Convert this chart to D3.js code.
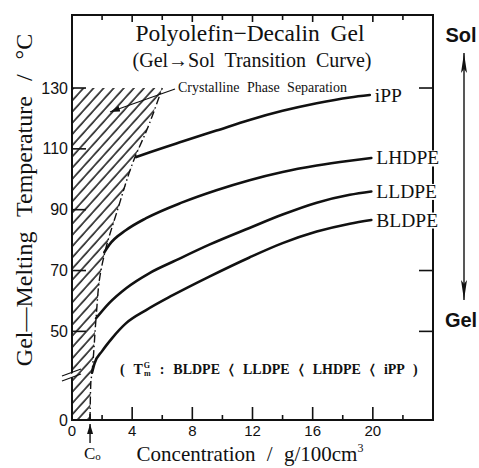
<!DOCTYPE html>
<html><head><meta charset="utf-8">
<script src="https://cdn.jsdelivr.net/npm/d3@7"></script>
<style>
body{margin:0;background:#fff}
svg text{fill:#111}
</style>
</head><body>
<svg id="chart" width="479" height="468"></svg>
<script>
// Gel-melting temperature of polyolefin/decalin gels vs. concentration
const xMajorTicks = [0, 4, 8, 12, 16, 20];
const xMinorTicks = [2, 6, 10, 14, 18, 22];
const yTickValues = [0, 50, 70, 90, 110, 130];
const rightTickValues = [50, 70, 130];
const c0 = 1.2;

const seriesNames = ["iPP", "LHDPE", "LLDPE", "BLDPE"];
const iPPConc   = [4.27, 5.13, 7.33, 9.6, 11.8, 14.0, 16.27, 18.47, 19.8];
const iPPTemp   = [107.3, 108.8, 112.4, 116.0, 119.5, 122.5, 125.0, 126.9, 127.7];
const lhdpeConc = [2.15, 2.47, 3.6, 4.93, 7.33, 9.6, 11.8, 14.0, 16.27, 18.47, 19.9];
const lhdpeTemp = [76.0, 78.4, 83.3, 87.2, 92.4, 96.4, 99.7, 102.4, 104.5, 106.1, 107.0];
const lldpeConc = [1.6, 2.47, 3.6, 5.13, 6.93, 9.13, 11.8, 14.0, 16.27, 18.47, 19.9];
const lldpeTemp = [54.3, 59.3, 64.2, 69.1, 73.4, 78.5, 84.0, 88.4, 92.3, 94.9, 96.0];
const bldpeConc = [1.33, 1.5, 2.0, 2.67, 3.6, 4.93, 6.67, 9.13, 11.8, 14.0, 16.27, 18.47, 19.9];
const bldpeTemp = [36.4, 39.5, 43.5, 47.8, 52.7, 57.0, 61.8, 68.0, 74.3, 79.0, 82.8, 85.4, 86.6];

// Boundary of the crystalline phase-separation region
const boundaryConc = [1.2, 1.25, 1.33, 1.6, 1.87, 2.2, 3.0, 4.15, 5.0, 6.0];
const boundaryTemp = [0, 30, 36.5, 54.4, 68.5, 76.3, 89.5, 106.8, 116.5, 130];

const svg = d3.select("#chart");
const plotLeft = 72, plotRight = 433, plotTop = 15, plotBottom = 420;

const x = d3.scaleLinear().domain([0, 24]).range([plotLeft, plotRight]);
// broken temperature axis: 0..35 compressed, 35..154 linear
const y = d3.scaleLinear().domain([0, 35, 154]).range([plotBottom, 377, plotTop]);

const serif = "'Liberation Serif','Times New Roman',serif";
const sans = "'Liberation Sans',Arial,sans-serif";

// hatch pattern
const defs = svg.append("defs");
const pat = defs.append("pattern").attr("id", "hatch")
  .attr("patternUnits", "userSpaceOnUse").attr("width", 7.5).attr("height", 7.5)
  .attr("patternTransform", "rotate(42)");
pat.append("line").attr("x1", 1).attr("y1", 0).attr("x2", 1).attr("y2", 7.5)
  .attr("stroke", "#000").attr("stroke-width", 1.4);

const bnd = boundaryConc.map((c, i) => [c, boundaryTemp[i]]);
const region = [[0, 0], [0, 130]].concat(bnd.slice().reverse());
svg.append("path")
  .attr("d", d3.line().x(d => x(d[0])).y(d => y(d[1]))(region) + "Z")
  .attr("fill", "url(#hatch)");
svg.append("path")
  .attr("d", d3.line().x(d => x(d[0])).y(d => y(d[1])).curve(d3.curveMonotoneY)(bnd))
  .attr("fill", "none").attr("stroke", "#111").attr("stroke-width", 1.4)
  .attr("stroke-dasharray", "8,3,1.5,3");

// frame
svg.append("rect").attr("x", plotLeft).attr("y", plotTop)
  .attr("width", plotRight - plotLeft).attr("height", plotBottom - plotTop)
  .attr("fill", "none").attr("stroke", "#111").attr("stroke-width", 2);

// axis break on the temperature axis
const gBreak = svg.append("g");
gBreak.append("polygon")
  .attr("points", `${plotLeft - 3},${375} ${plotLeft + 3},${372} ${plotLeft + 3},${376} ${plotLeft - 3},${379}`)
  .attr("fill", "#fff");
[372, 377].forEach(yy => {
  gBreak.append("line").attr("x1", plotLeft - 10).attr("y1", yy + 4)
    .attr("x2", plotLeft + 9).attr("y2", yy - 3).attr("stroke", "#111").attr("stroke-width", 1.3);
});

// ticks
const tk = svg.append("g").attr("stroke", "#111").attr("stroke-width", 1.6);
xMajorTicks.filter(v => v > 0).forEach(v => {
  tk.append("line").attr("x1", x(v)).attr("x2", x(v)).attr("y1", plotBottom).attr("y2", plotBottom - 13);
  tk.append("line").attr("x1", x(v)).attr("x2", x(v)).attr("y1", plotTop).attr("y2", plotTop + 7);
});
xMinorTicks.forEach(v => {
  tk.append("line").attr("x1", x(v)).attr("x2", x(v)).attr("y1", plotBottom).attr("y2", plotBottom - 5);
  tk.append("line").attr("x1", x(v)).attr("x2", x(v)).attr("y1", plotTop).attr("y2", plotTop + 5);
});
tk.append("line").attr("x1", x(c0)).attr("x2", x(c0)).attr("y1", plotBottom).attr("y2", plotBottom - 6);
yTickValues.filter(v => v > 0).forEach(v => {
  tk.append("line").attr("x1", plotLeft).attr("x2", plotLeft + 14).attr("y1", y(v)).attr("y2", y(v));
});
rightTickValues.forEach(v => {
  tk.append("line").attr("x1", plotRight).attr("x2", plotRight - 14).attr("y1", y(v)).attr("y2", y(v));
});

// tick labels
svg.append("g").selectAll("text").data(xMajorTicks).join("text")
  .attr("x", d => x(d)).attr("y", 436).attr("text-anchor", "middle")
  .attr("font-family", sans).attr("font-size", 15).text(d => d);
svg.append("g").selectAll("text").data(yTickValues).join("text")
  .attr("x", 68).attr("y", d => y(d) + 5.5).attr("text-anchor", "end")
  .attr("font-family", sans).attr("font-size", 16).text(d => d);

// curves
const seriesConc = [iPPConc, lhdpeConc, lldpeConc, bldpeConc];
const seriesTemp = [iPPTemp, lhdpeTemp, lldpeTemp, bldpeTemp];
const line = d3.line().x(d => x(d[0])).y(d => y(d[1])).curve(d3.curveMonotoneX);
seriesNames.forEach((name, i) => {
  const pts = seriesConc[i].map((c, j) => [c, seriesTemp[i][j]]);
  svg.append("path").attr("d", line(pts)).attr("fill", "none")
    .attr("stroke", "#111").attr("stroke-width", 2.6).attr("stroke-linecap", "round");
  const last = pts[pts.length - 1];
  const g = svg.append("g");
  const t = g.append("text").attr("x", x(last[0]) + 5).attr("y", y(last[1]) + 6.5)
    .attr("font-family", serif).attr("font-size", 19.5).text(name);
  const bb = t.node().getBBox();
  g.insert("rect", "text").attr("x", bb.x).attr("y", bb.y + 3)
    .attr("width", bb.width).attr("height", bb.height - 5).attr("fill", "#fff");
});

// titles
svg.append("text").attr("x", 250).attr("y", 41).attr("text-anchor", "middle")
  .attr("font-family", serif).attr("font-size", 23.5).attr("word-spacing", 5)
  .text("Polyolefin\u2212Decalin Gel");
svg.append("text").attr("x", 252).attr("y", 67).attr("text-anchor", "middle")
  .attr("font-family", serif).attr("font-size", 20).attr("word-spacing", 5)
  .text("(Gel\u2192Sol Transition Curve)");

// phase-separation annotation
svg.append("text").attr("x", 178).attr("y", 92)
  .attr("font-family", serif).attr("font-size", 14)
  .attr("word-spacing", 4).text("Crystalline Phase Separation");
defs.append("marker").attr("id", "ah").attr("viewBox", "0 0 10 6")
  .attr("refX", 10).attr("refY", 3).attr("markerWidth", 10).attr("markerHeight", 6)
  .attr("markerUnits", "userSpaceOnUse").attr("orient", "auto")
  .append("path").attr("d", "M0,0L10,3L0,6Z").attr("fill", "#111");
svg.append("line").attr("x1", 175).attr("y1", 89).attr("x2", 110).attr("y2", 112)
  .attr("stroke", "#111").attr("stroke-width", 1.2).attr("marker-end", "url(#ah)");

// ordering note
const note = svg.append("text").attr("x", 120).attr("y", 374)
  .attr("font-family", serif).attr("font-size", 14).attr("font-weight", "bold")
  .attr("word-spacing", 5.5);
note.append("tspan").text("( T");
note.append("tspan").attr("font-size", 8).attr("dy", -6).attr("dx", 1).text("G");
note.append("tspan").attr("font-size", 8).attr("dy", 8).attr("dx", -6).text("m");
note.append("tspan").attr("dy", -2).text(" : BLDPE \u2329 LLDPE \u2329 LHDPE \u2329 iPP )");

// C0 marker below the axis
svg.append("line").attr("x1", x(c0)).attr("x2", x(c0)).attr("y1", 443).attr("y2", 424)
  .attr("stroke", "#111").attr("stroke-width", 1.4).attr("marker-end", "url(#ah)");
const c0t = svg.append("text").attr("x", 84).attr("y", 459)
  .attr("font-family", serif).attr("font-size", 17);
c0t.append("tspan").text("C");
c0t.append("tspan").attr("font-size", 11).attr("dy", 1).text("o");

// axis titles
const xt = svg.append("text").attr("x", 250).attr("y", 461).attr("text-anchor", "middle")
  .attr("font-family", serif).attr("font-size", 21).attr("word-spacing", 6);
xt.append("tspan").text("Concentration / g/100cm");
xt.append("tspan").attr("font-size", 12).attr("dy", -9).text("3");

svg.append("text").attr("transform", "translate(32,200) rotate(-90)")
  .attr("text-anchor", "middle").attr("font-family", serif).attr("font-size", 24)
  .attr("word-spacing", 9).text("Gel\u2014Melting Temperature / \u00b0C");

// Sol / Gel direction arrow
svg.append("text").attr("x", 461).attr("y", 42).attr("text-anchor", "middle")
  .attr("font-family", sans).attr("font-weight", "bold").attr("font-size", 20).text("Sol");
svg.append("text").attr("x", 461).attr("y", 327).attr("text-anchor", "middle")
  .attr("font-family", sans).attr("font-weight", "bold").attr("font-size", 20).text("Gel");
svg.append("line").attr("x1", 464).attr("x2", 464).attr("y1", 53).attr("y2", 300)
  .attr("stroke", "#111").attr("stroke-width", 1.4);
svg.append("path").attr("d", "M464,53L467,73L464,69L461,73Z").attr("fill", "#111");
svg.append("path").attr("d", "M464,300L467,280L464,284L461,280Z").attr("fill", "#111");
</script>
</body></html>
